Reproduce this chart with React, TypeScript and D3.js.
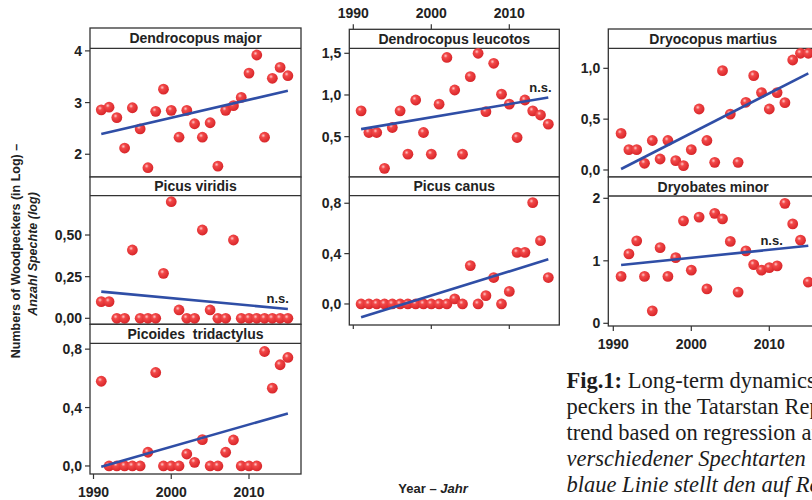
import React from 'react';
import * as d3 from 'd3';

// survey years
const years = [1991, 1992, 1993, 1994, 1995, 1996, 1997, 1998, 1999, 2000, 2001, 2002, 2003,
  2004, 2005, 2006, 2007, 2008, 2009, 2010, 2011, 2012, 2013, 2014, 2015];
const yearTicks = [1990, 2000, 2010];

// log abundance per species
const dendrocopusMajor = [2.86, 2.91, 2.71, 2.12, 2.9, 2.49, 1.74, 2.83, 3.26, 2.85, 2.33, 2.85, 2.59,
  2.33, 2.61, 1.77, 2.85, 2.94, 3.1, 3.57, 3.92, 2.33, 3.47, 3.68, 3.52];
const picusViridis = [0.1, 0.1, 0, 0, 0.41, 0, 0, 0, 0.27, 0.7, 0.05, 0, 0,
  0.53, 0.05, 0, 0, 0.47, 0, 0, 0, 0, 0, 0, 0];
const picoidesTridactylus = [0.58, 0, 0, 0, 0, 0, 0.094, 0.64, 0, 0, 0, 0.082, 0.025,
  0.18, 0, 0, 0.094, 0.178, 0, 0, 0, 0.784, 0.533, 0.693, 0.743];
const dendrocopusLeucotos = [0.81, 0.55, 0.55, 0.12, 0.61, 0.81, 0.29, 0.94, 0.55, 0.29, 0.89, 1.45, 1.06,
  0.29, 1.22, 1.5, 0.8, 1.38, 1.01, 0.89, 0.49, 0.94, 0.81, 0.76, 0.65];
const picusCanus = [0, 0, 0, 0, 0, 0, 0, 0, 0, 0, 0, 0, 0.04,
  0, 0.305, 0, 0.066, 0.21, 0, 0.1, 0.41, 0.41, 0.805, 0.503, 0.21];
const dryocopusMartius = [0.36, 0.2, 0.2, 0.066, 0.29, 0.108, 0.29, 0.092, 0.043, 0.2, 0.6, 0.29, 0.075,
  0.977, 0.55, 0.075, 0.666, 0.928, 0.761, 0.6, 0.761, 0.662, 1.082, 1.148, 1.148];
const dryobatesMinor = [0.75, 1.11, 1.32, 0.75, 0.2, 1.21, 0.75, 1.05, 1.64, 0.85, 1.7, 0.55, 1.76,
  1.67, 1.31, 0.5, 1.16, 0.94, 0.85, 0.89, 0.92, 1.92, 1.59, 1.33, 0.66];

// regression line, value at 1991 and 2015
const trendMajor = [2.39, 3.23];
const trendViridis = [0.16, 0.056];
const trendTridactylus = [-0.005, 0.36];
const trendLeucotos = [0.59, 0.97];
const trendCanus = [-0.106, 0.355];
const trendMartius = [0.01, 0.951];
const trendMinor = [0.933, 1.24];

const ticksMajor = [2, 3, 4];
const ticksViridis = [0, 0.25, 0.5];
const ticksTridactylus = [0, 0.4, 0.8];
const ticksLeucotos = [0.5, 1.0, 1.5];
const ticksCanus = [0, 0.4, 0.8];
const ticksMartius = [0, 0.5, 1.0];
const ticksMinor = [0, 1, 2];

const cols = [
  { x0: 90, x1: 301, xr: [93.5, 249] },
  { x0: 349.3, x1: 559.3, xr: [353.3, 509.3] },
  { x0: 608.3, x1: 818, xr: [613.3, 769.3] },
];

const fmt = (digits: number) => (v: number) => d3.format(`.${digits}f`)(v).replace('.', ',');

const panels = [
  { name: 'Dendrocopus major', col: 0, top: 28, strip: 48.3, bottom: 177, dom: [1.56, 4.05], vals: dendrocopusMajor, trend: trendMajor, ticks: ticksMajor, f: fmt(0), xAxis: '' },
  { name: 'Picus viridis', col: 0, top: 177, strip: 195.7, bottom: 324.3, dom: [-0.036, 0.736], vals: picusViridis, trend: trendViridis, ticks: ticksViridis, f: fmt(2), ns: [2013.7, 0.122], xAxis: '' },
  { name: 'Picoides  tridactylus', col: 0, top: 324.3, strip: 343.3, bottom: 474, dom: [-0.055, 0.84], vals: picoidesTridactylus, trend: trendTridactylus, ticks: ticksTridactylus, f: fmt(1), xAxis: 'bottom' },
  { name: 'Dendrocopus leucotos', col: 1, top: 29.3, strip: 48.3, bottom: 177, dom: [0.016, 1.56], vals: dendrocopusLeucotos, trend: trendLeucotos, ticks: ticksLeucotos, f: fmt(1), ns: [2014, 1.096], xAxis: 'top' },
  { name: 'Picus canus', col: 1, top: 177, strip: 195.7, bottom: 325, dom: [-0.167, 0.86], vals: picusCanus, trend: trendCanus, ticks: ticksCanus, f: fmt(1), xAxis: 'bottomNoLabel' },
  { name: 'Dryocopus martius', col: 2, top: 29, strip: 48.3, bottom: 177, dom: [-0.069, 1.197], vals: dryocopusMartius, trend: trendMartius, ticks: ticksMartius, f: fmt(1), xAxis: '' },
  { name: 'Dryobates minor', col: 2, top: 177, strip: 196, bottom: 326, dom: [-0.043, 2.037], vals: dryobatesMinor, trend: trendMinor, ticks: ticksMinor, f: fmt(0), ns: [2010.3, 1.333], xAxis: 'bottom' },
];

const caption = [
  { bold: 'Fig.1:', text: ' Long-term dynamics of wood-', italic: false },
  { bold: '', text: 'peckers in the Tatarstan Republic', italic: false },
  { bold: '', text: 'trend based on regression analysis', italic: false },
  { bold: '', text: 'verschiedener Spechtarten in Tatarstan', italic: true },
  { bold: '', text: 'blaue Linie stellt den auf Regression', italic: true },
];

const sans = 'Arial, "Liberation Sans", Helvetica, sans-serif';
const ink = '#222';
const frame = '#333';

function Panel({ p }: { p: any }) {
  const c = cols[p.col];
  const x = d3.scaleLinear().domain([1990, 2010]).range(c.xr);
  const y = d3.scaleLinear().domain(p.dom).range([p.bottom, p.strip]);
  return (
    <g>
      <rect x={c.x0} y={p.top} width={c.x1 - c.x0} height={p.bottom - p.top} fill="#fff" stroke={frame} strokeWidth={1.3} />
      <line x1={c.x0} x2={c.x1} y1={p.strip} y2={p.strip} stroke={frame} strokeWidth={1.3} />
      <text x={(c.x0 + Math.min(c.x1, 812) + (p.col === 2 ? 6 : 0)) / 2} y={p.top + (p.strip - p.top) / 2 + 5} textAnchor="middle"
        fontFamily={sans} fontWeight="bold" fontSize={14} fill={ink} style={{ whiteSpace: 'pre' }}>{p.name}</text>
      {p.ticks.map((t: number) => (
        <g key={t}>
          <line x1={c.x0 - 5} x2={c.x0} y1={y(t)} y2={y(t)} stroke={frame} strokeWidth={1.2} />
          <text x={c.x0 - 8} y={y(t) + 5} textAnchor="end" fontFamily={sans} fontWeight="bold" fontSize={14} fill={ink}>{p.f(t)}</text>
        </g>
      ))}
      {p.xAxis === 'bottom' && yearTicks.map(t => (
        <g key={t}>
          <line x1={x(t)} x2={x(t)} y1={p.bottom} y2={p.bottom + 5} stroke={frame} strokeWidth={1.2} />
          <text x={x(t)} y={p.bottom + 23} textAnchor="middle" fontFamily={sans} fontWeight="bold" fontSize={14} fill={ink}>{t}</text>
        </g>
      ))}
      {p.xAxis === 'bottomNoLabel' && yearTicks.map(t => (
        <line key={t} x1={x(t)} x2={x(t)} y1={p.bottom} y2={p.bottom + 4} stroke={frame} strokeWidth={1.2} />
      ))}
      {p.xAxis === 'top' && yearTicks.map(t => (
        <g key={t}>
          <line x1={x(t)} x2={x(t)} y1={p.top} y2={p.top - 5} stroke={frame} strokeWidth={1.2} />
          <text x={x(t)} y={18} textAnchor="middle" fontFamily={sans} fontWeight="bold" fontSize={14} fill={ink}>{t}</text>
        </g>
      ))}
      {p.vals.map((v: number, i: number) => (
        <circle key={i} cx={x(years[i])} cy={y(v)} r={5.4} fill="url(#ball)" />
      ))}
      <line x1={x(years[0])} x2={x(years[years.length - 1])} y1={y(p.trend[0])} y2={y(p.trend[1])}
        stroke="#2f4ea6" strokeWidth={2.6} />
      {p.ns && (
        <text x={x(p.ns[0])} y={y(p.ns[1]) + 5} textAnchor="middle" fontFamily={sans} fontWeight="bold" fontSize={13} fill={ink}>n.s.</text>
      )}
    </g>
  );
}

export default function App() {
  return (
    <svg width={812} height={500} style={{ position: 'absolute', left: 0, top: 0, background: '#fff' }}>
      <defs>
        <radialGradient id="ball" cx="0.38" cy="0.35" r="0.65">
          <stop offset="0" stopColor="#ffc8c8" />
          <stop offset="0.3" stopColor="#f24848" />
          <stop offset="1" stopColor="#d8262a" />
        </radialGradient>
      </defs>
      {panels.map(p => <Panel key={p.name} p={p} />)}
      <text transform="translate(20,251) rotate(-90)" textAnchor="middle" fontFamily={sans} fontWeight="bold" fontSize={12.5} fill={ink}>
        Numbers of Woodpeckers (in Log) –
      </text>
      <text transform="translate(37,254) rotate(-90)" textAnchor="middle" fontFamily={sans} fontWeight="bold" fontStyle="italic" fontSize={12.5} fill={ink}>
        Anzahl Spechte (log)
      </text>
      <text x={433} y={493} textAnchor="middle" fontFamily={sans} fontWeight="bold" fontSize={13} fill={ink}>
        Year – <tspan fontStyle="italic">Jahr</tspan>
      </text>
      {caption.map((l, i) => (
        <text key={i} x={566.5} y={388 + i * 26} fontFamily='"Liberation Serif", "DejaVu Serif", serif' fontSize={22.5}
          fontStyle={l.italic ? 'italic' : 'normal'} fill="#1c1c1c">
          {l.bold && <tspan fontWeight="bold">{l.bold}</tspan>}{l.text}
        </text>
      ))}
    </svg>
  );
}
